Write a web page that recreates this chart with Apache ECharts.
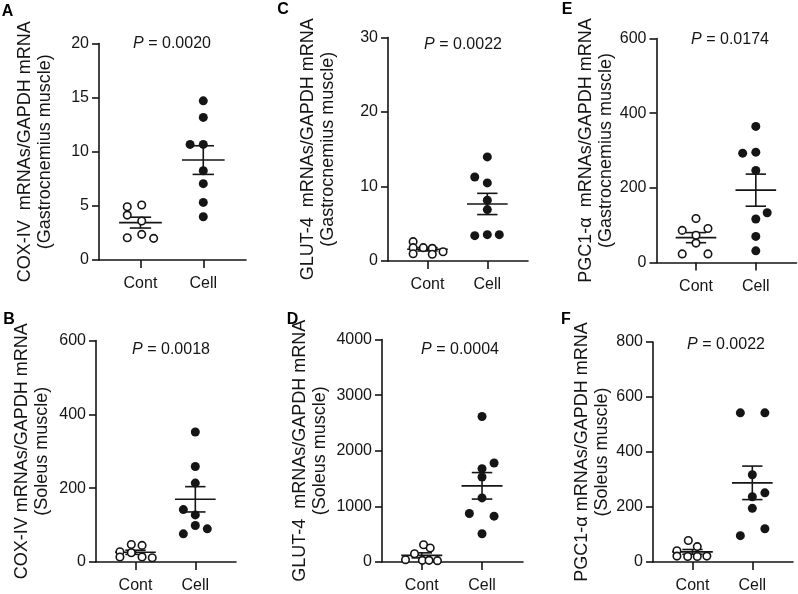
<!DOCTYPE html>
<html>
<head>
<meta charset="utf-8">
<script src="https://cdn.jsdelivr.net/npm/echarts@6/dist/echarts.min.js"></script>
<style>
  html, body { margin: 0; padding: 0; background: #fff; }
  #chart { width: 798px; height: 594px; }
</style>
</head>
<body>
<div id="chart"></div>
<script>
// ---------- data ----------
const groups = ['Cont', 'Cell'];

// A: COX-IV, gastrocnemius
const contA = [4.92, 5.08, 4.15, 3.6, 2.06, 2.37, 2.0];
const jitContA = [-0.21, 0.02, -0.21, 0.02, -0.21, 0.02, 0.21];
const cellA = [14.7, 13.17, 10.68, 10.68, 8.25, 7.05, 5.32, 4.0];
const jitCellA = [0, 0, -0.21, 0, 0, 0, 0, 0];

// B: COX-IV, soleus
const contB = [47.6, 45, 27.8, 13.5, 25.2, 13.5, 11.7];
const jitContB = [-0.07, 0.11, -0.26, -0.26, -0.07, 0.11, 0.28];
const cellB = [352, 258.7, 213.8, 141.9, 127.5, 98.8, 89.8, 76.3];
const jitCellB = [0, 0, 0, -0.2, 0, 0, 0.2, -0.2];

// C: GLUT-4, gastrocnemius
const contC = [2.6, 1.79, 0.98, 1.79, 1.7, 0.9, 1.25];
const jitContC = [-0.24, -0.24, -0.24, -0.07, 0.08, 0.08, 0.26];
const cellC = [13.97, 11.28, 10.48, 8.15, 6.9, 3.4, 3.54, 3.54];
const jitCellC = [0, -0.21, 0, 0, 0, -0.21, 0, 0.2];

// D: GLUT-4, soleus
const contD = [310, 251, 149, 42, 30, 30, 24];
const jitContD = [0.03, 0.14, -0.12, -0.27, 0.01, 0.12, 0.26];
const cellD = [2615, 1779, 1678, 1528, 1152, 872, 824, 507];
const jitCellD = [0, 0.2, 0, 0, 0, -0.21, 0.2, 0];

// E: PGC1-α, gastrocnemius
const contE = [118, 86, 91, 73, 52, 23, 23];
const jitContE = [0, -0.23, 0.2, 0, 0, -0.23, 0.2];
const cellE = [364.5, 292.8, 295.5, 246.3, 133.4, 116.4, 69.9, 31.3];
const jitCellE = [0, -0.22, 0, 0, 0.19, 0, 0, 0];

// F: PGC1-α, soleus
const contF = [78, 56, 41, 21.5, 20, 20, 21.5];
const jitContF = [-0.07, 0.08, -0.26, -0.26, -0.08, 0.08, 0.24];
const cellF = [542.5, 542.5, 317.4, 251.5, 237.1, 195.2, 121, 95.8];
const jitCellF = [-0.2, 0.21, 0, 0.21, 0, 0, 0.21, -0.2];

const panelLetters = ['A', 'B', 'C', 'D', 'E', 'F'];
const yTitles = [
  'COX-IV  mRNAs/GAPDH mRNA\n(Gastrocnemius muscle)',
  'COX-IV mRNAs/GAPDH mRNA\n(Soleus muscle)',
  'GLUT-4  mRNAs/GAPDH mRNA\n(Gastrocnemius muscle)',
  'GLUT-4  mRNAs/GAPDH mRNA\n(Soleus muscle)',
  'PGC1-α  mRNAs/GAPDH mRNA\n(Gastrocnemius muscle)',
  'PGC1-α mRNAs/GAPDH mRNA\n(Soleus muscle)'
];
const pValues = ['0.0020', '0.0018', '0.0022', '0.0004', '0.0174', '0.0022'];
const yMaxes = [20, 600, 30, 4000, 600, 800];
const ySteps = [5, 200, 10, 1000, 200, 200];

// ---------- layout / style ----------
const FONT = '"Liberation Sans", Arial, Helvetica, sans-serif';
const INK = '#151515';
const layout = [
  { left: 99,    top: 43.5, width: 147, height: 216.5, gap: 43.5, letter: [7.5, 12],  p: [172, 44] },
  { left: 96,    top: 340.5, width: 140, height: 222.5, gap: 44,  letter: [9, 320],   p: [171, 350] },
  { left: 388,   top: 37.5, width: 140, height: 223.5, gap: 50,   letter: [283, 10],  p: [463, 45] },
  { left: 382,   top: 339.5, width: 141, height: 223,  gap: 52,   letter: [292.5, 320], p: [460, 350] },
  { left: 656.5, top: 38.5, width: 140, height: 224,   gap: 40.5, letter: [567, 10],  p: [730, 40] },
  { left: 653,   top: 342,  width: 140, height: 221,   gap: 38.5, letter: [566, 320], p: [726, 345] }
];
const X_MIN = 0.34, X_MAX = 2.68;
const MEAN_HALF = 0.34, SEM_HALF = 0.17;

const contAll = [contA, contB, contC, contD, contE, contF];
const jitContAll = [jitContA, jitContB, jitContC, jitContD, jitContE, jitContF];
const cellAll = [cellA, cellB, cellC, cellD, cellE, cellF];
const jitCellAll = [jitCellA, jitCellB, jitCellC, jitCellD, jitCellE, jitCellF];

function meanSem(arr) {
  const n = arr.length;
  const m = arr.reduce((a, b) => a + b, 0) / n;
  const v = arr.reduce((a, b) => a + (b - m) * (b - m), 0) / (n - 1);
  return [m, Math.sqrt(v) / Math.sqrt(n)];
}

const grids = [], xAxes = [], yAxes = [], series = [], graphics = [];

for (let i = 0; i < 6; i++) {
  const L = layout[i];
  grids.push({ left: L.left, top: L.top, width: L.width, height: L.height, containLabel: false });
  xAxes.push({
    gridIndex: i, type: 'value', min: X_MIN, max: X_MAX,
    axisLine: { show: true, onZero: false, lineStyle: { color: INK, width: 1.6 } },
    axisTick: { show: true, length: 8, customValues: [1, 2], lineStyle: { color: INK, width: 1.6 } },
    axisLabel: { show: true, customValues: [1, 2], margin: 16, fontSize: 16, fontFamily: FONT, color: INK,
      formatter: v => groups[Math.round(v) - 1] || '' },
    splitLine: { show: false }
  });
  yAxes.push({
    gridIndex: i, type: 'value', min: 0, max: yMaxes[i], interval: ySteps[i],
    name: yTitles[i], nameLocation: 'middle', nameGap: L.gap, nameRotate: 90,
    nameTextStyle: { fontSize: 18, fontFamily: FONT, color: INK, lineHeight: 20, align: 'center' },
    axisLine: { show: true, lineStyle: { color: INK, width: 1.6 } },
    axisTick: { show: true, length: 7, lineStyle: { color: INK, width: 1.6 } },
    axisLabel: { show: true, margin: 10, fontSize: 16, fontFamily: FONT, color: INK,
      formatter: v => String(v) },
    splitLine: { show: false }
  });

  const cont = contAll[i], cell = cellAll[i];
  const msC = meanSem(cont), msT = meanSem(cell);

  series.push({
    type: 'custom', xAxisIndex: i, yAxisIndex: i, z: 2, silent: true,
    encode: { x: 0, y: 1 },
    data: [[1, msC[0], msC[1]], [2, msT[0], msT[1]]],
    renderItem: (params, api) => {
      const x = api.value(0), m = api.value(1), s = api.value(2);
      const st = { stroke: INK, lineWidth: 1.6 };
      const seg = (a, b) => {
        const p1 = api.coord(a), p2 = api.coord(b);
        return { type: 'line', shape: { x1: p1[0], y1: p1[1], x2: p2[0], y2: p2[1] }, style: st };
      };
      return { type: 'group', children: [
        seg([x - MEAN_HALF, m], [x + MEAN_HALF, m]),
        seg([x - SEM_HALF, m + s], [x + SEM_HALF, m + s]),
        seg([x - SEM_HALF, m - s], [x + SEM_HALF, m - s]),
        seg([x, m - s], [x, m + s])
      ] };
    }
  });
  series.push({
    type: 'scatter', xAxisIndex: i, yAxisIndex: i, z: 3, symbol: 'circle', symbolSize: 7.5,
    itemStyle: { color: '#ffffff', borderColor: INK, borderWidth: 1.6, opacity: 1 },
    data: cont.map((v, k) => [1 + jitContAll[i][k], v])
  });
  series.push({
    type: 'scatter', xAxisIndex: i, yAxisIndex: i, z: 3, symbol: 'circle', symbolSize: 9,
    itemStyle: { color: INK, opacity: 1 },
    data: cell.map((v, k) => [2 + jitCellAll[i][k], v])
  });

  graphics.push({
    type: 'text', x: L.letter[0], y: L.letter[1],
    style: { text: panelLetters[i], font: 'bold 16px ' + FONT, fill: '#000', align: 'center', verticalAlign: 'middle' }
  });
  graphics.push({
    type: 'text', x: L.p[0], y: L.p[1],
    style: {
      text: '{i|P} = ' + pValues[i], fontSize: 16, fontFamily: FONT, fill: INK,
      align: 'center', verticalAlign: 'middle',
      rich: { i: { fontStyle: 'italic', fontSize: 16, fontFamily: FONT, fill: INK } }
    }
  });
}

const chart = echarts.init(document.getElementById('chart'), null, { renderer: 'canvas' });
chart.setOption({
  backgroundColor: '#ffffff',
  animation: false,
  grid: grids,
  xAxis: xAxes,
  yAxis: yAxes,
  series: series,
  graphic: graphics
});
</script>
</body>
</html>
